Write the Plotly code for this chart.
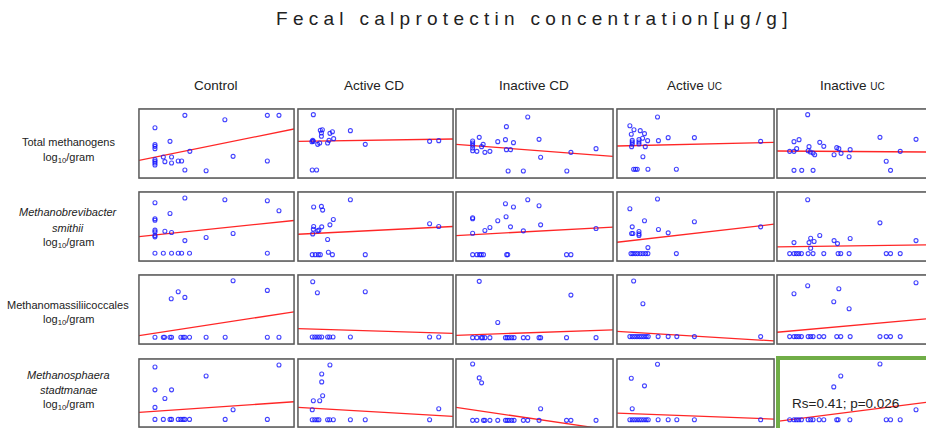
import plotly.graph_objects as go

W, H = 926, 428

# ---------------- data (x: relative calprotectin position 0-100, y: relative log10/gram 0-100) ----------------
columns = ["Control", "Active CD", "Inactive CD", "Active UC", "Inactive UC"]

# Row 1: Total methanogens
tm_ctl_x = [29.6, 55.4, 82.8, 90.3, 10.3, 20.0, 10.3, 10.3, 10.3, 32.8, 15.7, 21.0, 60.7, 10.3, 10.3, 10.3, 10.3, 16.7, 21.0, 25.3, 27.5, 82.8, 29.6, 43.3]
tm_ctl_y = [90.8, 84.5, 90.8, 90.8, 72.9, 53.1, 48.3, 45.9, 42.5, 38.6, 30.4, 30.4, 31.4, 26.6, 24.2, 21.7, 18.8, 23.7, 21.7, 24.6, 24.6, 24.6, 11.6, 10.6]
tm_acd_x = [9.9, 14.4, 15.7, 15.1, 15.1, 20.6, 22.2, 33.8, 23.0, 20.0, 9.5, 9.9, 9.0, 12.7, 14.0, 19.1, 43.4, 84.9, 90.8, 9.2, 12.0]
tm_acd_y = [91.8, 69.1, 70.0, 65.2, 60.4, 64.7, 67.1, 68.6, 57.0, 54.6, 54.6, 53.1, 52.7, 48.8, 50.7, 50.7, 48.8, 53.1, 54.1, 11.6, 11.6]
tm_icd_x = [45.7, 32.1, 14.8, 52.9, 31.5, 36.6, 26.6, 10.6, 10.6, 10.6, 10.6, 10.6, 17.3, 16.3, 13.3, 18.4, 21.6, 32.1, 34.7, 73.2, 89.2, 53.9, 33.2, 42.9, 70.6]
tm_icd_y = [88.4, 74.4, 58.9, 56.0, 55.6, 51.2, 52.7, 53.6, 50.7, 47.3, 43.5, 39.6, 48.8, 45.4, 38.6, 37.2, 38.6, 41.1, 41.1, 37.2, 42.5, 30.0, 10.1, 10.1, 10.1]
tm_auc_x = [25.8, 8.2, 10.8, 14.8, 17.5, 9.1, 9.7, 9.7, 9.7, 9.3, 14.0, 16.3, 14.0, 14.0, 19.5, 26.4, 32.6, 49.3, 18.0, 16.5, 10.6, 11.8, 12.9, 19.7, 37.8, 91.5]
tm_auc_y = [88.4, 75.8, 70.0, 68.6, 64.3, 63.3, 54.6, 52.2, 49.3, 45.4, 55.6, 57.5, 52.2, 49.3, 54.1, 54.1, 58.5, 58.5, 45.4, 30.9, 12.6, 12.6, 12.6, 12.6, 12.6, 53.1]
tm_iuc_x = [20.6, 69.1, 93.3, 11.4, 14.8, 28.7, 31.4, 21.5, 40.1, 41.5, 13.2, 8.5, 11.4, 20.9, 22.4, 24.2, 25.3, 38.3, 43.0, 49.1, 48.4, 73.3, 82.7, 11.4, 16.6, 24.2, 76.2]
tm_iuc_y = [91.8, 58.9, 56.0, 52.7, 55.6, 51.7, 45.9, 45.4, 44.0, 42.5, 42.5, 38.6, 38.6, 39.6, 37.7, 36.2, 33.8, 33.8, 35.7, 41.1, 30.9, 24.2, 38.6, 11.1, 11.1, 11.1, 11.1]
tm_fit_left = [25.6, 53.1, 48.8, 46.4, 39.1]
tm_fit_right = [71.0, 56.5, 31.4, 51.7, 37.7]

# Row 2: Methanobrevibacter smithii
msm_ctl_x = [29.6, 55.4, 82.8, 10.3, 90.3, 20.0, 10.3, 10.3, 10.3, 10.3, 16.7, 21.0, 60.7, 10.3, 10.3, 29.6, 43.3, 10.3, 15.7, 21.0, 25.3, 27.5, 32.6, 82.8]
msm_ctl_y = [91.3, 88.8, 87.4, 84.5, 72.8, 68.9, 61.2, 59.2, 44.7, 42.2, 43.2, 41.3, 39.8, 36.9, 35.0, 29.6, 34.0, 11.2, 11.2, 11.2, 11.2, 11.2, 11.2, 11.2]
msm_acd_x = [33.8, 10.1, 15.1, 15.9, 22.8, 20.6, 15.3, 10.1, 9.9, 12.7, 13.5, 9.5, 19.1, 43.4, 84.9, 90.8, 9.2, 11.2, 13.1, 14.4, 19.6, 22.2]
msm_acd_y = [88.8, 78.2, 79.1, 73.8, 60.2, 52.4, 49.5, 50.0, 46.1, 43.7, 44.7, 39.3, 31.1, 9.2, 53.9, 50.0, 9.2, 9.2, 9.2, 9.2, 12.6, 9.2]
msm_icd_x = [45.7, 31.5, 36.6, 52.9, 10.6, 10.6, 31.9, 26.6, 21.6, 34.7, 18.4, 53.9, 10.6, 42.9, 89.2, 10.6, 13.3, 15.0, 16.1, 17.5, 32.3, 33.0, 70.4, 73.2]
msm_icd_y = [88.8, 83.0, 78.2, 80.1, 62.6, 61.2, 64.1, 58.3, 48.5, 49.5, 44.2, 52.4, 40.3, 43.7, 47.1, 9.2, 9.2, 9.2, 9.2, 9.2, 9.2, 9.2, 9.2, 9.2]
msm_auc_x = [25.8, 8.2, 17.5, 49.3, 9.7, 26.4, 32.6, 9.3, 10.1, 14.0, 14.0, 14.0, 19.7, 8.9, 10.1, 11.6, 13.1, 14.8, 16.5, 18.2, 19.7, 37.8, 91.5]
msm_auc_y = [89.8, 75.7, 58.3, 56.8, 49.5, 45.6, 40.8, 39.8, 39.8, 42.7, 39.3, 36.9, 19.4, 10.7, 10.7, 10.7, 10.7, 10.7, 10.7, 10.7, 10.7, 10.7, 49.5]
msm_iuc_x = [20.6, 69.1, 28.7, 22.6, 24.9, 21.5, 11.4, 38.3, 40.6, 49.1, 93.3, 22.6, 8.5, 11.4, 13.0, 14.6, 16.4, 20.9, 24.2, 31.4, 41.0, 42.8, 48.4, 73.3, 76.2, 82.7]
msm_iuc_y = [88.8, 55.3, 36.9, 33.0, 28.2, 26.7, 26.7, 29.6, 25.2, 32.5, 29.6, 18.4, 10.7, 10.7, 10.7, 10.7, 10.7, 10.7, 10.7, 10.7, 10.7, 10.7, 10.7, 10.7, 10.7, 10.7]
msm_fit_left = [35.4, 38.8, 36.9, 27.2, 20.4]
msm_fit_right = [58.7, 50.0, 49.0, 53.4, 23.3]

# Row 3: Methanomassiliicoccales
mmc_ctl_x = [60.7, 25.3, 82.8, 20.8, 29.6, 10.3, 15.7, 16.5, 20.0, 21.0, 27.0, 28.5, 29.6, 32.6, 43.3, 55.6, 82.8, 90.3]
mmc_ctl_y = [91.7, 75.7, 77.7, 65.5, 67.5, 9.7, 9.7, 9.7, 9.7, 9.7, 9.7, 9.7, 9.7, 9.7, 9.7, 9.7, 9.7, 9.7]
mmc_acd_x = [9.5, 12.5, 43.4, 9.2, 10.8, 12.3, 13.8, 15.3, 19.1, 20.4, 22.6, 33.8, 84.9, 90.8]
mmc_acd_y = [90.3, 74.3, 75.7, 10.2, 10.2, 10.2, 10.2, 10.2, 10.2, 10.2, 10.2, 10.2, 10.2, 10.2]
mmc_icd_x = [14.8, 73.2, 26.6, 10.6, 13.3, 16.1, 16.9, 18.4, 21.6, 31.5, 32.6, 33.8, 35.5, 37.0, 42.9, 45.7, 52.9, 53.9, 70.4, 89.2]
mmc_icd_y = [90.8, 70.9, 31.1, 9.2, 9.2, 9.2, 9.2, 9.2, 9.2, 9.2, 9.2, 9.2, 9.2, 9.2, 9.2, 9.2, 9.2, 9.2, 9.2, 9.2]
mmc_auc_x = [10.6, 16.5, 8.2, 9.7, 11.2, 12.7, 14.2, 15.6, 17.1, 18.6, 19.9, 26.2, 32.6, 38.1, 49.3, 91.5]
mmc_auc_y = [91.3, 58.3, 10.7, 10.7, 10.7, 10.7, 10.7, 10.7, 10.7, 10.7, 10.7, 10.7, 10.7, 10.7, 10.7, 10.7]
mmc_iuc_x = [93.3, 20.6, 11.4, 41.5, 38.1, 48.4, 8.5, 11.4, 13.0, 14.6, 16.4, 20.9, 22.6, 24.2, 28.3, 31.4, 40.1, 42.8, 49.1, 69.1, 73.3, 76.2, 82.7]
mmc_iuc_y = [88.8, 84.5, 72.8, 80.1, 61.2, 51.0, 10.7, 10.7, 10.7, 10.7, 10.7, 10.7, 10.7, 10.7, 10.7, 10.7, 10.7, 10.7, 10.7, 10.7, 10.7, 10.7, 10.7]
mmc_fit_left = [12.1, 22.3, 12.6, 18.4, 17.0]
mmc_fit_right = [46.6, 15.5, 20.4, 4.4, 36.4]

# Row 4: Methanosphaera stadtmanae
mst_ctl_x = [10.3, 90.3, 43.3, 10.3, 21.0, 16.7, 10.3, 60.7, 10.3, 15.7, 20.0, 21.0, 25.3, 27.0, 28.5, 29.6, 32.6, 55.6, 82.8]
mst_ctl_y = [88.3, 91.2, 75.1, 54.6, 54.6, 42.0, 28.8, 25.4, 11.2, 11.2, 11.2, 11.2, 11.2, 11.2, 11.2, 11.2, 11.2, 11.2, 11.2]
mst_acd_x = [20.6, 15.3, 15.3, 15.9, 9.9, 14.0, 9.2, 90.8, 9.2, 10.8, 12.3, 13.5, 19.1, 20.4, 22.8, 33.8, 43.4, 84.9]
mst_acd_y = [91.2, 78.0, 66.3, 45.9, 38.5, 38.5, 25.4, 26.8, 10.7, 10.7, 10.7, 10.7, 10.7, 10.7, 10.7, 10.7, 10.7, 10.7]
mst_icd_x = [10.6, 14.8, 16.3, 53.9, 10.6, 13.3, 17.5, 18.4, 21.6, 26.6, 31.5, 32.6, 33.8, 35.5, 37.0, 42.9, 45.7, 52.9, 70.4, 73.2, 89.2]
mst_icd_y = [92.7, 72.2, 64.9, 26.8, 9.8, 9.8, 9.8, 9.8, 9.8, 9.8, 9.8, 9.8, 9.8, 9.8, 9.8, 9.8, 9.8, 9.8, 9.8, 9.8, 9.8]
mst_auc_x = [25.8, 9.1, 17.5, 9.7, 8.2, 9.7, 11.2, 12.7, 14.2, 15.6, 17.1, 18.6, 19.9, 26.2, 32.6, 38.1, 49.3, 91.5]
mst_auc_y = [92.2, 71.7, 60.5, 26.8, 10.7, 10.7, 10.7, 10.7, 10.7, 10.7, 10.7, 10.7, 10.7, 10.7, 10.7, 10.7, 10.7, 10.7]
mst_iuc_x = [69.1, 42.8, 38.1, 93.3, 8.5, 11.4, 13.0, 14.6, 16.4, 20.9, 22.6, 24.2, 28.3, 31.4, 40.1, 41.0, 48.9, 73.3, 76.2, 82.7]
mst_iuc_y = [92.7, 75.1, 59.0, 25.4, 10.7, 10.7, 10.7, 10.7, 10.7, 10.7, 10.7, 10.7, 10.7, 10.7, 10.7, 10.7, 10.7, 10.7, 10.7, 10.7]
mst_fit_left = [21.5, 28.8, 28.8, 20.5, 8.3]
mst_fit_right = [37.1, 15.6, -5.0, 11.7, 36.1]

significant_label = "Rs=0.41; p=0.026"

rows = [
    ([(tm_ctl_x, tm_ctl_y), (tm_acd_x, tm_acd_y), (tm_icd_x, tm_icd_y), (tm_auc_x, tm_auc_y), (tm_iuc_x, tm_iuc_y)], tm_fit_left, tm_fit_right),
    ([(msm_ctl_x, msm_ctl_y), (msm_acd_x, msm_acd_y), (msm_icd_x, msm_icd_y), (msm_auc_x, msm_auc_y), (msm_iuc_x, msm_iuc_y)], msm_fit_left, msm_fit_right),
    ([(mmc_ctl_x, mmc_ctl_y), (mmc_acd_x, mmc_acd_y), (mmc_icd_x, mmc_icd_y), (mmc_auc_x, mmc_auc_y), (mmc_iuc_x, mmc_iuc_y)], mmc_fit_left, mmc_fit_right),
    ([(mst_ctl_x, mst_ctl_y), (mst_acd_x, mst_acd_y), (mst_icd_x, mst_icd_y), (mst_auc_x, mst_auc_y), (mst_iuc_x, mst_iuc_y)], mst_fit_left, mst_fit_right),
]

# ---------------- layout geometry (pixels) ----------------
col_left = [139, 298, 456, 617, 777]
col_right = [294, 453, 613, 774, 926]
row_top = [109, 192, 275, 359]
row_bot = [178, 261, 344, 427]

FONT = "Liberation Sans, Arial, sans-serif"

fig = go.Figure()
layout = dict(
    width=W, height=H, margin=dict(l=0, r=0, t=0, b=0),
    paper_bgcolor="white", plot_bgcolor="white", showlegend=False,
    font=dict(family=FONT, color="#222"),
)
shapes = []
annotations = []

idx = 0
for r, (panels, fl, fr) in enumerate(rows):
    for c, (px, py) in enumerate(panels):
        idx += 1
        sx = "" if idx == 1 else str(idx)
        xa, ya = "x" + sx, "y" + sx
        layout["xaxis" + sx] = dict(
            domain=[col_left[c] / W, col_right[c] / W], range=[0, 100],
            showgrid=False, zeroline=False, showticklabels=False, ticks="",
            showline=False, anchor=ya, fixedrange=True)
        layout["yaxis" + sx] = dict(
            domain=[1 - row_bot[r] / H, 1 - row_top[r] / H], range=[0, 100],
            showgrid=False, zeroline=False, showticklabels=False, ticks="",
            showline=False, anchor=xa, fixedrange=True)
        fig.add_trace(go.Scatter(
            x=[0, 100], y=[fl[c], fr[c]], mode="lines", xaxis=xa, yaxis=ya,
            line=dict(color="rgba(255,0,0,0.85)", width=1.3), hoverinfo="skip"))
        fig.add_trace(go.Scatter(
            x=px, y=py, mode="markers", xaxis=xa, yaxis=ya,
            marker=dict(symbol="circle-open", size=4,
                        color="rgba(20,20,255,0.8)", line=dict(width=1.1))))
        # panel frames
        green = (r == 3 and c == 4)
        x1 = col_right[c] if c < 4 else W + 20
        if green:
            shapes.append(dict(type="rect", xref="paper", yref="paper",
                               x0=(col_left[c] + 1) / W, x1=(W + 20) / W,
                               y0=1 - (row_bot[r] + 10) / H, y1=1 - (row_top[r] - 1) / H,
                               line=dict(color="#70AD47", width=4), layer="above"))
        else:
            shapes.append(dict(type="rect", xref="paper", yref="paper",
                               x0=(col_left[c] - 0.5) / W, x1=(x1 + 0.5) / W,
                               y0=1 - (row_bot[r] + 0.5) / H, y1=1 - (row_top[r] - 0.5) / H,
                               line=dict(color="#c8c8c8", width=1), layer="above"))
            shapes.append(dict(type="rect", xref="paper", yref="paper",
                               x0=col_left[c] / W, x1=x1 / W,
                               y0=1 - row_bot[r] / H, y1=1 - row_top[r] / H,
                               line=dict(color="#585858", width=1.4), layer="above"))

def ann(text, x, y, size, xanchor="center", **kw):
    annotations.append(dict(text=text, x=x / W, y=1 - y / H, xref="paper", yref="paper",
                            xanchor=xanchor, yanchor="middle", showarrow=False,
                            font=dict(family=FONT, size=size, color=kw.get("color", "#222"))))

# title with wide letter spacing
words = ["Fecal", "calprotectin", "concentration[μg/g]"]
title = "\u00a0\u00a0\u00a0".join(" ".join(list(w)) for w in words)
ann(title, 532, 19, 19)

# column headers
hdr_x = [216, 374, 534, 694, 852]
hdr_txt = ["Control", "Active CD", "Inactive CD",
           "Active <span style='font-size:10px'>UC</span>",
           "Inactive <span style='font-size:10px'>UC</span>"]
for hx, ht in zip(hdr_x, hdr_txt):
    ann(ht, hx, 85, 13.5)

# row labels
lg = "log<sub>10</sub>/gram"
ann("Total methanogens", 68, 142, 11)
ann(lg, 68, 158, 11)
ann("<i>Methanobrevibacter</i>", 68, 212, 11)
ann("<i>smithii</i>", 68, 228, 11)
ann(lg, 68, 243, 11)
ann("Methanomassiliicoccales", 68, 305, 11)
ann(lg, 68, 320, 11)
ann("<i>Methanosphaera</i>", 68, 375, 11)
ann("<i>stadtmanae</i>", 68, 390, 11)
ann(lg, 68, 405, 11)

# significance label
ann(significant_label, 790, 403, 13.5, xanchor="left")

layout["shapes"] = shapes
layout["annotations"] = annotations
fig.update_layout(**layout)
fig.write_html("out.html")
